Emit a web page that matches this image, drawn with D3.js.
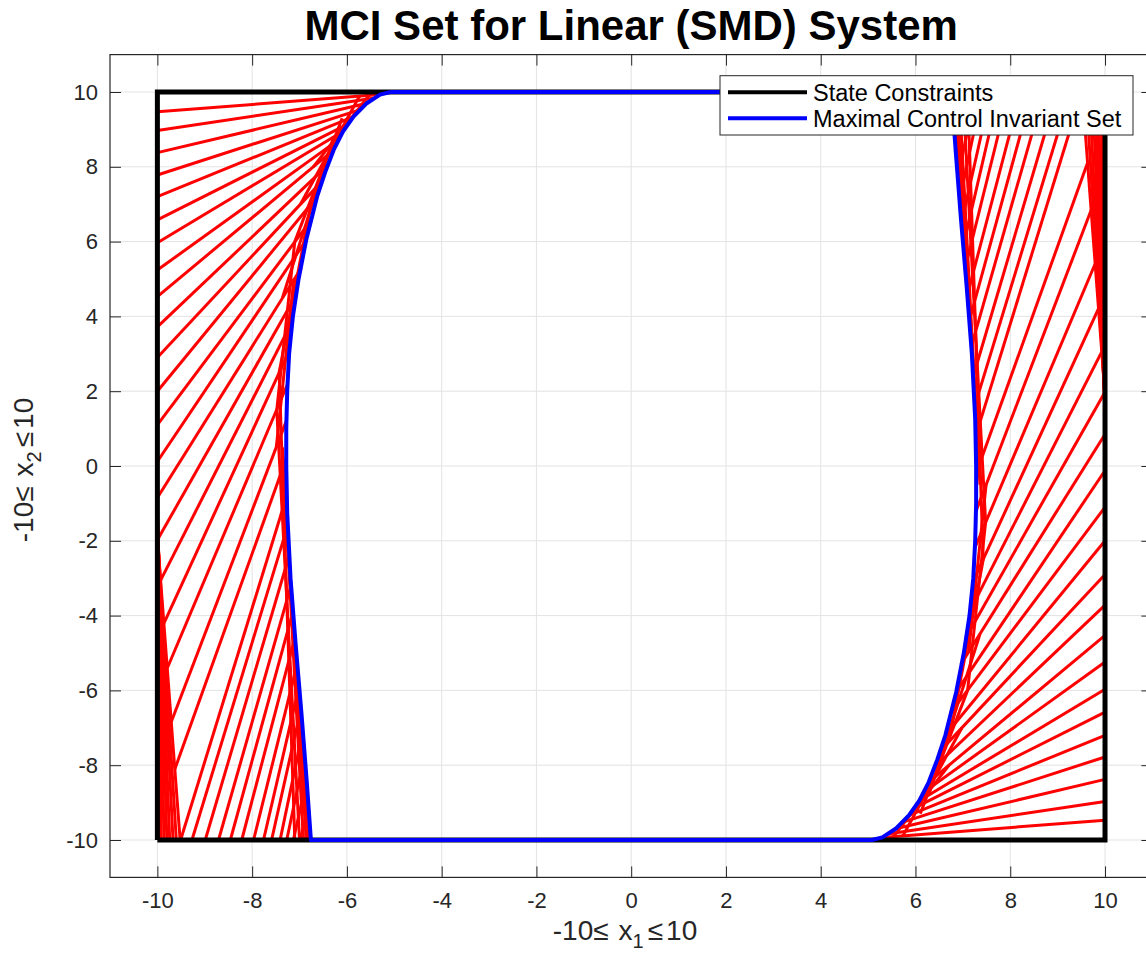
<!DOCTYPE html>
<html>
<head>
<meta charset="utf-8">
<script src="https://cdn.jsdelivr.net/npm/d3@7"></script>
<style>
  html, body { margin: 0; padding: 0; background: #ffffff; }
  svg { display: block; }
  text { font-family: "Liberation Sans", Arial, Helvetica, sans-serif; fill: #262626; }
</style>
</head>
<body>
<div id="chart"></div>
<script>
// ---- data -------------------------------------------------------------
const titleText = "MCI Set for Linear (SMD) System";
const xTicks = [-10, -8, -6, -4, -2, 0, 2, 4, 6, 8, 10];
const yTicks = [-10, -8, -6, -4, -2, 0, 2, 4, 6, 8, 10];
const axisLimits = [-11, 11];

// state constraint box  |x1| <= 10, |x2| <= 10
const boxX = [-10, -10, 10, 10, -10];
const boxY = [-10, 10, 10, -10, -10];

// maximal control invariant set boundary (closed)
const mciX = [-5.08, -5.30, -5.58, -5.86, -6.08, -6.28, -6.46, -6.63, -6.86, -7.02, -7.14, -7.22, -7.26, -7.28, -7.28, -7.26, -7.19, -7.08, -6.96, -6.85, -6.76,
               5.08,  5.30,  5.58,  5.86,  6.08,  6.28,  6.46,  6.63,  6.86,  7.02,  7.14,  7.22,  7.26,  7.28,  7.28,  7.26,  7.19,  7.08,  6.96,  6.85,  6.76, -5.08];
const mciY = [10, 9.93, 9.70, 9.34, 8.95, 8.45, 7.85, 7.20, 6.04, 5.0, 4.0, 3.0, 2.0, 1.0, 0, -1.26, -3.0, -4.8, -6.6, -8.4, -10,
              -10, -9.93, -9.70, -9.34, -8.95, -8.45, -7.85, -7.20, -6.04, -5.0, -4.0, -3.0, -2.0, -1.0, 0, 1.26, 3.0, 4.8, 6.6, 8.4, 10, 10];

// cutting hyperplanes of the set iterations, left half: [x0, y0, x1, y1]
const cutsLeft = [
  [-10, 9.47, -5.30, 9.93], [-10, 8.97, -5.45, 9.83], [-10, 8.38, -5.58, 9.70], [-10, 7.78, -5.72, 9.53],
  [-10, 7.20, -5.86, 9.34], [-10, 6.58, -5.97, 9.15], [-10, 5.97, -6.08, 8.95], [-10, 5.24, -6.18, 8.72],
  [-10, 4.53, -6.28, 8.45], [-10, 3.72, -6.40, 8.05], [-10, 2.90, -6.50, 7.65], [-10, 2.00, -6.63, 7.20],
  [-10, 1.10, -6.74, 6.60], [-10, 0.12, -6.86, 6.04], [-10, -0.85, -6.96, 5.30], [-10, -1.98, -7.06, 4.60],
  [-9.93, -3.05, -7.14, 3.90], [-9.86, -4.20, -7.21, 3.10], [-9.79, -5.40, -7.25, 2.20], [-9.71, -6.85, -7.28, 1.20],
  [-9.63, -8.10, -7.28, 0.20],
  [-9.51, -10, -7.27, -0.80], [-9.27, -10, -7.25, -1.60], [-8.99, -10, -7.22, -2.40], [-8.71, -10, -7.18, -3.20],
  [-8.46, -10, -7.14, -3.90], [-8.22, -10, -7.10, -4.60], [-7.97, -10, -7.05, -5.30], [-7.76, -10, -7.01, -5.90],
  [-7.59, -10, -6.97, -6.50], [-7.41, -10, -6.93, -7.10], [-7.27, -10, -6.89, -7.70], [-7.13, -10, -6.85, -8.40],
  [-6.99, -10, -6.81, -9.10], [-6.88, -10, -6.78, -9.60], [-6.83, -10, -6.77, -9.80],
  [-10, -0.6, -9.97, -10], [-10, -0.9, -9.92, -10], [-10, -1.1, -9.86, -10], [-10, -1.3, -9.80, -10],
  [-10, -1.5, -9.74, -10], [-10, -1.65, -9.67, -10], [-10, -1.8, -9.60, -10], [-10, -1.9, -9.52, -10]
];
// late iterations: short cuts hugging the left boundary of the set
const lateCutsLeft = [
  [-6.86, -10, -7.30, -1.0], [-6.92, -10, -7.36, 0.5], [-7.00, -10, -7.48, 1.5], [-7.10, -10, -7.43, 2.5],
  [-6.81, -10, -7.25, -2.0], [-7.49, 0.5, -7.12, 5.0], [-7.48, 1.5, -7.10, 6.0], [-7.43, 2.5, -6.76, 7.0],
  [-7.36, 4.5, -6.28, 8.8], [-7.10, 6.0, -6.10, 9.3], [-6.98, 7.0, -5.73, 9.9], [-6.71, 8.0, -5.51, 9.95]
];

// cutting hyperplanes, right half: [x0, y0, x1, y1]
const cutsRight = [
  [10, -9.47, 5.30, -9.93], [10, -8.97, 5.45, -9.83], [10, -8.38, 5.58, -9.70], [10, -7.78, 5.72, -9.53],
  [10, -7.20, 5.86, -9.34], [10, -6.58, 5.97, -9.15], [10, -5.97, 6.08, -8.95], [10, -5.24, 6.18, -8.72],
  [10, -4.53, 6.28, -8.45], [10, -3.72, 6.40, -8.05], [10, -2.90, 6.50, -7.65], [10, -2.00, 6.63, -7.20],
  [10, -1.10, 6.74, -6.60], [10, -0.12, 6.86, -6.04], [10, 0.85, 6.96, -5.30], [10, 1.98, 7.06, -4.60],
  [9.93, 3.05, 7.14, -3.90], [9.86, 4.20, 7.21, -3.10], [9.79, 5.40, 7.25, -2.20], [9.71, 6.85, 7.28, -1.20],
  [9.63, 8.10, 7.28, -0.20],
  [9.51, 10, 7.27, 0.80], [9.27, 10, 7.25, 1.60], [8.99, 10, 7.22, 2.40], [8.71, 10, 7.18, 3.20],
  [8.46, 10, 7.14, 3.90], [8.22, 10, 7.10, 4.60], [7.97, 10, 7.05, 5.30], [7.76, 10, 7.01, 5.90],
  [7.59, 10, 6.97, 6.50], [7.41, 10, 6.93, 7.10], [7.27, 10, 6.89, 7.70], [7.13, 10, 6.85, 8.40],
  [6.99, 10, 6.81, 9.10], [6.88, 10, 6.78, 9.60], [6.83, 10, 6.77, 9.80],
  [10, 0.6, 9.97, 10], [10, 0.9, 9.92, 10], [10, 1.1, 9.86, 10], [10, 1.3, 9.80, 10],
  [10, 1.5, 9.74, 10], [10, 1.65, 9.67, 10], [10, 1.8, 9.60, 10], [10, 1.9, 9.52, 10]
];
// late iterations: short cuts hugging the right boundary of the set
const lateCutsRight = [
  [6.86, 10, 7.30, 1.0], [6.92, 10, 7.36, -0.5], [7.00, 10, 7.48, -1.5], [7.10, 10, 7.43, -2.5],
  [6.81, 10, 7.25, 2.0], [7.49, -0.5, 7.12, -5.0], [7.48, -1.5, 7.10, -6.0], [7.43, -2.5, 6.76, -7.0],
  [7.36, -4.5, 6.28, -8.8], [7.10, -6.0, 6.10, -9.3], [6.98, -7.0, 5.73, -9.9], [6.71, -8.0, 5.51, -9.95]
];

const legendLabels = ["State Constraints", "Maximal Control Invariant Set"];
const legendColors = ["#000000", "#0000ff"];

// ---- layout -----------------------------------------------------------
const W = 1146, H = 955;
const plotLeft = 110, plotRight = 1152.4, plotTop = 54.6, plotBottom = 877.4;
const axisColor = "#262626";
const tickLen = 11;
const fontStack = '"Liberation Sans", Arial, Helvetica, sans-serif';

const svg = d3.select("#chart").append("svg")
  .attr("width", W).attr("height", H)
  .attr("viewBox", `0 0 ${W} ${H}`);

const x = d3.scaleLinear().domain(axisLimits).range([plotLeft, plotRight]);
const y = d3.scaleLinear().domain(axisLimits).range([plotBottom, plotTop]);

svg.append("rect").attr("x", 0).attr("y", 0).attr("width", W).attr("height", H).attr("fill", "#ffffff");

// grid
const grid = svg.append("g").attr("stroke", "#e3e3e3").attr("stroke-width", 1);
grid.selectAll("line.gx").data(xTicks).join("line").attr("class", "gx")
  .attr("x1", d => x(d)).attr("x2", d => x(d)).attr("y1", plotTop).attr("y2", plotBottom);
grid.selectAll("line.gy").data(yTicks).join("line").attr("class", "gy")
  .attr("y1", d => y(d)).attr("y2", d => y(d)).attr("x1", plotLeft).attr("x2", plotRight);

// red cutting lines of the iterations
const allCuts = cutsLeft.concat(lateCutsLeft, cutsRight, lateCutsRight);
const cuts = svg.append("g").attr("stroke", "#ff0000").attr("stroke-width", 3).attr("stroke-linecap", "butt");
cuts.selectAll("line.cl").data(allCuts).join("line").attr("class", "cl")
  .attr("x1", d => x(d[0])).attr("y1", d => y(d[1]))
  .attr("x2", d => x(d[2])).attr("y2", d => y(d[3]));

// constraint box
const line = d3.line().x(d => x(d[0])).y(d => y(d[1]));
svg.append("path")
  .datum(boxX.map((v, i) => [v, boxY[i]]))
  .attr("d", line).attr("fill", "none").attr("stroke", "#000000")
  .attr("stroke-width", 5).attr("stroke-linejoin", "miter");

// invariant set
svg.append("path")
  .datum(mciX.map((v, i) => [v, mciY[i]]))
  .attr("d", line).attr("fill", "none").attr("stroke", "#0000ff")
  .attr("stroke-width", 4).attr("stroke-linejoin", "round");

// axes (inward ticks on all four sides)
const tickFmt = d => String(d);
function styleAxis(g) {
  g.select(".domain").remove();
  g.selectAll(".tick line").attr("stroke", axisColor).attr("stroke-width", 1);
  g.selectAll(".tick text").attr("fill", axisColor).style("font-size", "22px").style("font-family", fontStack);
}
svg.append("g").attr("transform", `translate(0,${plotBottom})`)
  .call(d3.axisBottom(x).tickValues(xTicks).tickSizeInner(-tickLen).tickSizeOuter(0).tickPadding(15).tickFormat(tickFmt))
  .call(styleAxis);
svg.append("g").attr("transform", `translate(0,${plotTop})`)
  .call(d3.axisTop(x).tickValues(xTicks).tickSizeInner(-tickLen).tickSizeOuter(0).tickFormat(""))
  .call(styleAxis);
svg.append("g").attr("transform", `translate(${plotLeft},0)`)
  .call(d3.axisLeft(y).tickValues(yTicks).tickSizeInner(-tickLen).tickSizeOuter(0).tickPadding(12).tickFormat(tickFmt))
  .call(styleAxis);
svg.append("g").attr("transform", `translate(${plotRight},0)`)
  .call(d3.axisRight(y).tickValues(yTicks).tickSizeInner(-tickLen).tickSizeOuter(0).tickFormat(""))
  .call(styleAxis);

// axes box
svg.append("rect").attr("x", plotLeft).attr("y", plotTop)
  .attr("width", plotRight - plotLeft).attr("height", plotBottom - plotTop)
  .attr("fill", "none").attr("stroke", axisColor).attr("stroke-width", 1.2);

// title
svg.append("text").attr("x", (plotLeft + plotRight) / 2).attr("y", 40)
  .attr("text-anchor", "middle").style("font-size", "42px").style("font-weight", "bold")
  .style("fill", "#000000")
  .text(titleText);

// axis labels with subscripts
function mathLabel(sel, sub) {
  sel.append("tspan").text("-10\u2264");
  sel.append("tspan").attr("dx", 10).text("x");
  sel.append("tspan").attr("dy", 8).style("font-size", "20px").text(sub);
  sel.append("tspan").attr("dy", -8).attr("dx", 4).text("\u2264");
  sel.append("tspan").attr("dx", 3).text("10");
}
const xl = svg.append("text").attr("x", 625).attr("y", 940)
  .attr("text-anchor", "middle").style("font-size", "28px").style("fill", "#262626");
mathLabel(xl, "1");

const yl = svg.append("text").attr("transform", `translate(33,470) rotate(-90)`)
  .attr("text-anchor", "middle").style("font-size", "28px").style("fill", "#262626");
mathLabel(yl, "2");

// legend
const lg = svg.append("g");
lg.append("rect").attr("x", 720).attr("y", 75.7).attr("width", 413).attr("height", 59.3)
  .attr("fill", "#ffffff").attr("stroke", axisColor).attr("stroke-width", 1);
legendLabels.forEach((lab, i) => {
  const cy = 92.3 + i * 26;
  lg.append("line").attr("x1", 728).attr("x2", 807).attr("y1", cy).attr("y2", cy)
    .attr("stroke", legendColors[i]).attr("stroke-width", 4);
  lg.append("text").attr("x", 813).attr("y", cy).attr("dy", "0.35em")
    .style("font-size", "23.5px").style("fill", "#000000").text(lab);
});
</script>
</body>
</html>
